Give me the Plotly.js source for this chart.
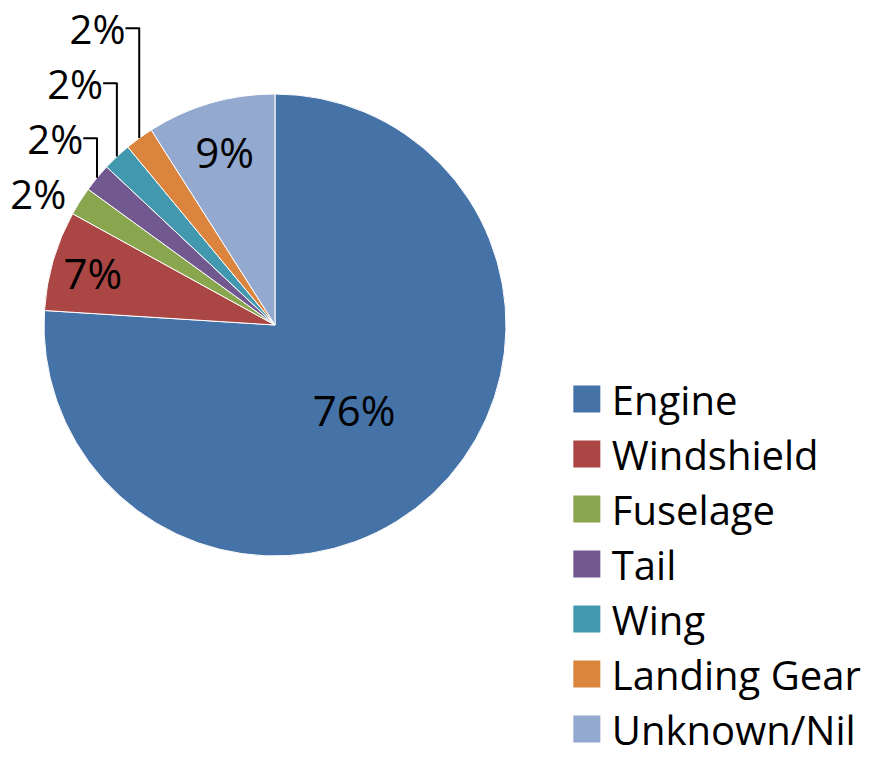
<!DOCTYPE html>
<html>
<head>
<meta charset="utf-8">
<script src="https://cdn.plot.ly/plotly-3.0.1.min.js"></script>
<style>html,body{margin:0;padding:0;background:#fff;}#chart{width:882px;height:762px;}</style>
</head>
<body>
<div id="chart"></div>
<script>
const categories = ["Engine", "Windshield", "Fuselage", "Tail", "Wing", "Landing Gear", "Unknown/Nil"];
const shares = [76, 7, 2, 2, 2, 2, 9];
const sliceColors = ["#4572A7", "#AA4643", "#89A54E", "#71588F", "#4198AF", "#DB843D", "#93A9CF"];
const labelPositions = ["inside", "inside", "outside", "outside", "outside", "outside", "inside"];

const W = 882, H = 762;
const cx = 275, cy = 325, r = 231;
const FONT = "'Open Sans', Lato, sans-serif";

const trace = {
  type: "pie",
  labels: categories,
  values: shares,
  sort: false,
  direction: "clockwise",
  rotation: 0,
  marker: { colors: sliceColors, line: { color: "#ffffff", width: 1 } },
  texttemplate: "%{percent:.0%}",
  textposition: labelPositions,
  insidetextorientation: "horizontal",
  textfont: { family: FONT, size: 42, color: "#000000" },
  outsidetextfont: { family: FONT, size: 40, color: "#000000" },
  hoverinfo: "label+percent",
  domain: { x: [(cx - r) / W, (cx + r) / W], y: [1 - (cy + r) / H, 1 - (cy - r) / H] }
};

const layout = {
  width: W, height: H,
  margin: { l: 0, r: 0, t: 0, b: 0, autoexpand: false },
  paper_bgcolor: "#ffffff",
  showlegend: true,
  legend: {
    x: 0.637, y: 0.519, xanchor: "left", yanchor: "top",
    font: { family: FONT, size: 40, color: "#000000" },
    itemwidth: 40,
    bgcolor: "rgba(0,0,0,0)"
  }
};

Plotly.newPlot("chart", [trace], layout, { displayModeBar: false, staticPlot: true }).then(function (gd) {
  gd.querySelectorAll(".legendpoints path").forEach(function (p) {
    p.setAttribute("d", "M13.5,13.5H-13.5V-13.5H13.5Z");
    p.style.strokeWidth = "0px";
  });
});
</script>
</body>
</html>
